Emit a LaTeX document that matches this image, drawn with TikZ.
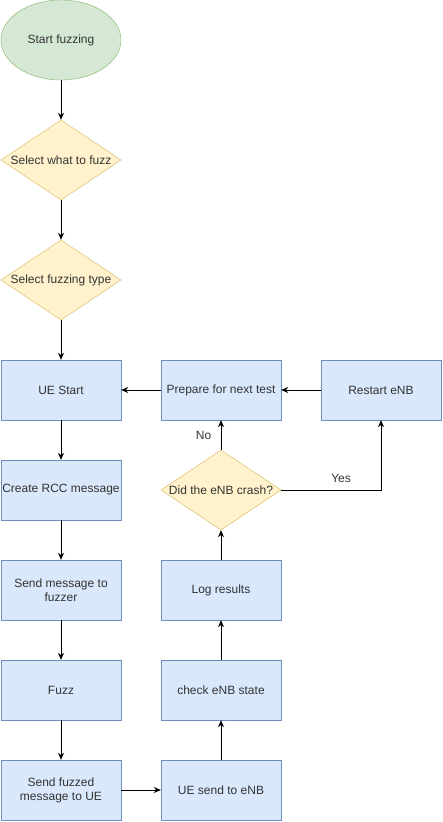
\documentclass[tikz,border=0pt]{standalone}
\usepackage{fontspec}
\setmainfont{Liberation Sans}
\usetikzlibrary{shapes.geometric,arrows.meta}
\definecolor{startfill}{HTML}{D5E8D4}\definecolor{startline}{HTML}{82B366}
\definecolor{askfill}{HTML}{FFF2CC}\definecolor{askline}{HTML}{D6B656}
\definecolor{boxfill}{HTML}{DAE8FC}\definecolor{boxline}{HTML}{6C8EBF}
\begin{document}
\begin{tikzpicture}[x=1pt, y=-1pt, font=\fontsize{12}{14}\selectfont, color={black!80},
    begin/.style={draw=startline, fill=startfill, shape=ellipse, minimum width=120pt, minimum height=80pt, inner sep=0pt},
    ask/.style={draw=askline, fill=askfill, shape=diamond, aspect=1.5, minimum width=120pt, minimum height=80pt, inner sep=0pt},
    task/.style={draw=boxline, fill=boxfill, shape=rectangle, minimum width=120pt, minimum height=60pt, align=center, inner sep=0pt},
    flow/.style={draw=black, thick, -{Stealth[length=7pt,width=6pt]}}]
        \useasboundingbox (0,0) rectangle (442,822);

        \node[begin] (start) at (61,40) {Start fuzzing};
        \node[ask] (what) at (61,160) {Select what to fuzz};
        \node[ask] (type) at (61,280) {Select fuzzing type};
        \node[task] (ue) at (61,390) {UE Start};
        \node[task] (rcc) at (61,490) {Create RCC message};
        \node[task] (send) at (61,590) {Send message to\\fuzzer};
        \node[task] (fuzz) at (61,690) {Fuzz};
        \node[task] (sendue) at (61,790) {Send fuzzed\\message to UE};

        \node[task] (toenb) at (221,790) {UE send to eNB};
        \node[task] (check) at (221,690) {check eNB state};
        \node[task] (log) at (221,590) {Log results};
        \node[ask] (crash) at (221,490) {Did the eNB crash?};
        \node[task] (prep) at (221,390) {Prepare for next test};
        \node[task] (restart) at (381,390) {Restart eNB};

        \draw[flow] (start) -- (what);\draw[flow] (what) -- (type);\draw[flow] (type) -- (ue);
        \draw[flow] (ue) -- (rcc);\draw[flow] (rcc) -- (send);\draw[flow] (send) -- (fuzz);\draw[flow] (fuzz) -- (sendue);
        \draw[flow] (sendue) -- (toenb);
        \draw[flow] (toenb) -- (check);\draw[flow] (check) -- (log);\draw[flow] (log) -- (crash);
        \draw[flow] (crash) -- node[left=6pt] (no) {No} (prep);
        \draw[flow] (crash.east) -| node[pos=0.3, above=4pt] (yes) {Yes} (restart);
        \draw[flow] (restart) -- (prep);\draw[flow] (prep) -- (ue);
    \end{tikzpicture}
\end{document}
